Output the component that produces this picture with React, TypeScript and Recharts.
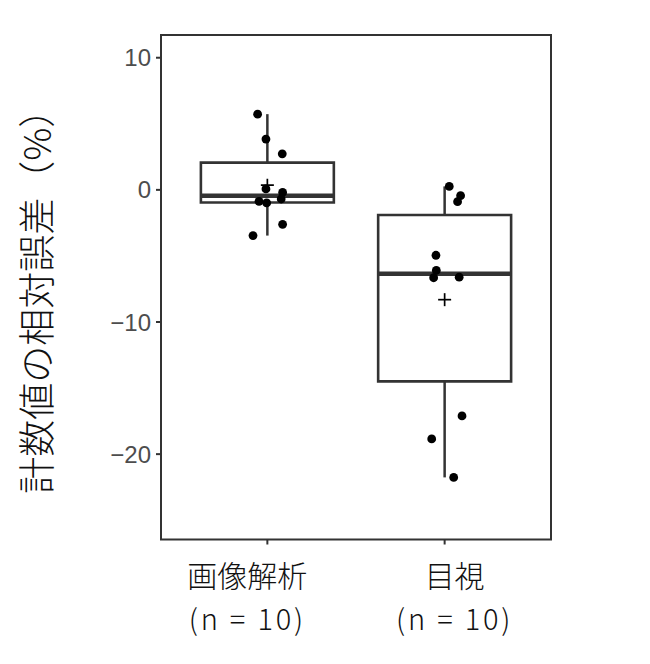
import React from "react";
import {
  ComposedChart,
  ReferenceArea,
  ReferenceLine,
  Scatter,
  XAxis,
  YAxis,
} from "recharts";

const categories = ["画像解析", "目視"];
const sampleSizes = [10, 10];

// jittered x positions and values
const imageJitterX = [0.945, 0.992, 1.084, 0.992, 1.086, 1.078, 0.953, 0.996, 1.086, 0.919];
const imageValues = [5.73, 3.84, 2.73, 0.07, -0.19, -0.69, -0.87, -0.99, -2.61, -3.46];
const visualJitterX = [2.026, 2.09, 2.073, 1.951, 1.953, 1.938, 2.082, 2.098, 1.927, 2.051];
const visualValues = [0.26, -0.44, -0.89, -4.95, -6.1, -6.65, -6.61, -17.11, -18.85, -21.76];

const yTicks = [-20, -10, 0, 10];
const yDomain = [-26.46, 11.72];
const xDomain = [0.4, 2.6];

const INK = "#333333";
const BOX_HALF = 0.375;
// the category labels sit a little off their ticks in the original
const labelShift = [-20, 10];

function quantile(sorted: number[], p: number) {
  const pos = (sorted.length - 1) * p;
  const lo = Math.floor(pos);
  const hi = Math.ceil(pos);
  return sorted[lo] + (sorted[hi] - sorted[lo]) * (pos - lo);
}

function boxStats(values: number[], center: number) {
  const s = [...values].sort((a, b) => a - b);
  const q1 = quantile(s, 0.25);
  const q3 = quantile(s, 0.75);
  const iqr = q3 - q1;
  const lowW = s.filter((v) => v >= q1 - 1.5 * iqr)[0];
  const inside = s.filter((v) => v <= q3 + 1.5 * iqr);
  const highW = inside[inside.length - 1];
  const mean = values.reduce((a, b) => a + b, 0) / values.length;
  return { center, q1, q3, median: quantile(s, 0.5), lowW, highW, mean };
}

const stats = [boxStats(imageValues, 1), boxStats(visualValues, 2)];

const points = [
  ...imageValues.map((y, i) => ({ x: imageJitterX[i], y })),
  ...visualValues.map((y, i) => ({ x: visualJitterX[i], y })),
];
const means = stats.map((s) => ({ x: s.center, y: s.mean }));

const Dot = (props: any) => <circle cx={props.cx} cy={props.cy} r={4.4} fill="#000" />;

const Plus = (props: any) => (
  <g stroke="#000" strokeWidth={1.7}>
    <line x1={props.cx - 6.5} x2={props.cx + 6.5} y1={props.cy} y2={props.cy} />
    <line x1={props.cx} x2={props.cx} y1={props.cy - 6.5} y2={props.cy + 6.5} />
  </g>
);

const XTick = (props: any) => {
  const { x, y, payload } = props;
  const i = payload.value - 1;
  const cx = x + labelShift[i];
  return (
    <g>
      <text
        x={cx}
        y={y + 42}
        textAnchor="middle"
        fontFamily="Noto Sans CJK JP"
        fontWeight={300}
        fontSize={30}
        fill="#111"
      >
        {categories[i]}
      </text>
      <text
        x={cx}
        y={y + 85}
        textAnchor="middle"
        fontFamily="Noto Sans CJK JP"
        fontWeight={300}
        fontSize={29}
        letterSpacing={2.8}
        fill="#111"
      >
        {`(n = ${sampleSizes[i]})`}
      </text>
    </g>
  );
};

const YLabel = (props: any) => {
  const vb = props.viewBox;
  const cy = vb.y + vb.height / 2 + 5;
  return (
    <text
      transform={`translate(51, ${cy}) rotate(-90)`}
      textAnchor="middle"
      fontFamily="Noto Sans CJK JP"
      fontWeight={300}
      fontSize={37}
      fill="#111"
    >
      計数値の相対誤差（%）
    </text>
  );
};

export default function App() {
  return (
    <div style={{ position: "absolute", left: 0, top: 0, background: "#fff" }}>
      <ComposedChart
        width={650}
        height={664}
        margin={{ top: 35, right: 99, left: 0, bottom: 0 }}
      >
        <XAxis
          type="number"
          dataKey="x"
          domain={xDomain}
          ticks={[1, 2]}
          allowDataOverflow
          height={124.5}
          axisLine={false}
          tickLine={{ stroke: INK, strokeWidth: 2 }}
          tickSize={5}
          tickMargin={0}
          tick={<XTick />}
        />
        <YAxis
          type="number"
          dataKey="y"
          domain={yDomain}
          ticks={yTicks}
          allowDataOverflow
          width={161}
          axisLine={false}
          tickLine={{ stroke: INK, strokeWidth: 2 }}
          tickSize={5}
          tickMargin={5}
          tickFormatter={(v: number) => (v < 0 ? `\u2212${-v}` : `${v}`)}
          tick={{ fontFamily: "Liberation Sans", fontSize: 24, fill: "#4d4d4d" }}
          label={{ content: <YLabel /> }}
        />
        <ReferenceArea
          x1={xDomain[0]}
          x2={xDomain[1]}
          y1={yDomain[0]}
          y2={yDomain[1]}
          fill="none"
          stroke={INK}
          strokeWidth={2}
        />
        {stats.map((s) => (
          <ReferenceLine
            key={`wh${s.center}`}
            segment={[
              { x: s.center, y: s.q3 },
              { x: s.center, y: s.highW },
            ]}
            stroke={INK}
            strokeWidth={2.5}
          />
        ))}
        {stats.map((s) => (
          <ReferenceLine
            key={`wl${s.center}`}
            segment={[
              { x: s.center, y: s.q1 },
              { x: s.center, y: s.lowW },
            ]}
            stroke={INK}
            strokeWidth={2.5}
          />
        ))}
        {stats.map((s) => (
          <ReferenceArea
            key={`box${s.center}`}
            x1={s.center - BOX_HALF}
            x2={s.center + BOX_HALF}
            y1={s.q1}
            y2={s.q3}
            fill="#fff"
            fillOpacity={1}
            stroke={INK}
            strokeWidth={2.6}
          />
        ))}
        {stats.map((s) => (
          <ReferenceLine
            key={`med${s.center}`}
            segment={[
              { x: s.center - BOX_HALF, y: s.median },
              { x: s.center + BOX_HALF, y: s.median },
            ]}
            stroke={INK}
            strokeWidth={4.5}
          />
        ))}
        <Scatter data={means} shape={<Plus />} isAnimationActive={false} />
        <Scatter data={points} shape={<Dot />} isAnimationActive={false} />
      </ComposedChart>
    </div>
  );
}
